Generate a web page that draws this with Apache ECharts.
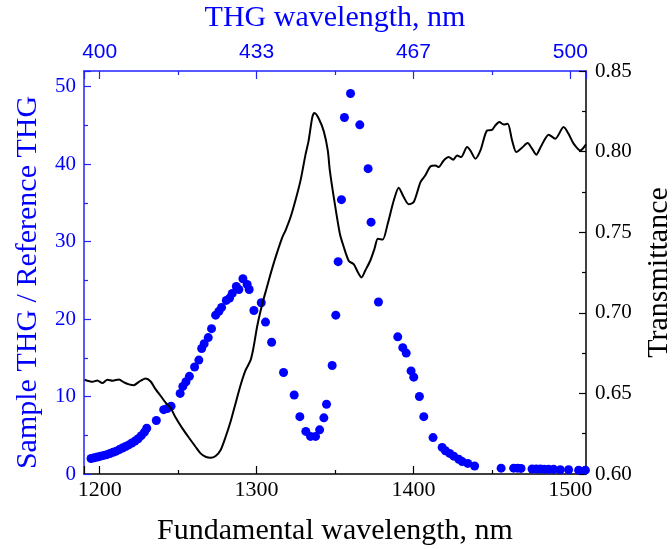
<!DOCTYPE html>
<html><head><meta charset="utf-8">
<script src="https://cdn.jsdelivr.net/npm/echarts@6/dist/echarts.min.js"></script>
<style>html,body{margin:0;padding:0;background:#fff}#c{width:672px;height:549px}</style>
</head><body><div id="c"></div>
<script>
// THG ratio (scatter), fundamental wavelength in nm
const thgWl = [1194.5,1196.5,1198.5,1200.5,1202.5,1204.5,1206.5,1208.5,1210.5,1212.5,1214.5,1216.5,1218.5,1220.5,1222.5,1224.5,1226.5,1228.5,1230.0,
  1236.1,1240.8,1243.1,1245.5,1251.3,1253.0,1255.0,1257.2,1260.5,1263.2,1265.0,1266.6,1269.2,1271.3,1273.9,1276.0,1277.7,1280.7,1282.8,1284.5,
  1287.1,1288.7,1291.3,1294.0,1295.3,1298.3,1303.0,1305.7,1309.6,1317.2,1324.0,1327.6,1331.4,1334.4,1337.6,1340.2,1342.9,1344.6,1348.2,1350.5,
  1352.0,1354.1,1356.0,1359.9,1365.8,1371.1,1373.0,1377.7,1390.0,1393.2,1395.4,1398.5,1400.2,1403.8,1406.6,1412.5,1418.3,1420.4,1423.1,1425.7,
  1428.9,1431.1,1434.6,1439.0,1455.9,1463.9,1466.4,1468.6,1475.6,1478.3,1480.9,1483.4,1486.2,1489.4,1493.6,1498.9,1505.3,1509.6];
const thgRatio = [2.0,2.1,2.2,2.3,2.4,2.5,2.65,2.8,2.95,3.15,3.35,3.55,3.75,4.0,4.25,4.55,4.95,5.4,5.9,
  6.9,8.3,8.45,8.75,10.4,11.3,11.9,12.6,13.8,14.7,16.2,16.8,17.6,18.75,20.5,21.0,21.5,22.4,22.7,23.3,
  24.2,23.8,25.2,24.45,23.8,21.1,22.1,19.6,17.0,13.1,10.2,7.4,5.5,4.85,4.85,5.7,7.25,9.0,14.0,20.5,
  27.4,35.4,46.0,49.1,45.05,39.4,32.5,22.2,17.7,16.3,15.6,13.3,12.5,10.0,7.4,4.7,3.43,3.0,2.66,2.3,
  1.9,1.6,1.37,1.03,0.75,0.75,0.75,0.72,0.65,0.65,0.65,0.62,0.6,0.6,0.55,0.55,0.5,0.5];

// Transmittance (line)
const transWl = [1190.4,1195.4,1198.5,1201.7,1204.9,1208.3,1212.3,1215.5,1218.7,1221.8,1225.0,1229.3,1232.5,1235.7,1238.9,1242.0,1245.2,1248.4,
  1252.7,1256.9,1261.1,1264.3,1267.5,1270.7,1273.9,1277.1,1280.3,1283.4,1286.6,1289.8,1293.0,1296.2,1298.1,1300.4,1303.6,1306.4,1308.9,
  1312.1,1316.4,1318.5,1321.7,1324.8,1328.0,1331.2,1333.1,1335.5,1336.9,1339.7,1342.9,1345.4,1346.7,1349.2,1353.1,1355.6,1358.8,1362.0,
  1364.5,1366.9,1369.4,1372.6,1375.2,1377.3,1380.4,1383.6,1387.5,1390.6,1393.8,1397.0,1400.2,1404.5,1407.6,1410.8,1414.0,1416.1,1419.3,
  1422.5,1425.3,1427.8,1430.4,1434.2,1436.3,1439.5,1442.7,1446.9,1450.1,1452.2,1454.8,1457.5,1460.1,1462.9,1465.6,1469.2,1472.8,1475.6,
  1478.3,1481.3,1486.2,1490.4,1495.7,1498.9,1502.1,1506.4,1510.0];
const transVal = [0.6585,0.6572,0.6580,0.6564,0.6585,0.6579,0.6587,0.6568,0.6556,0.6551,0.6572,0.6593,0.6574,0.6525,0.6484,0.6443,0.6410,0.6350,
  0.6283,0.6225,0.6169,0.6128,0.6107,0.6101,0.6112,0.6149,0.6231,0.6324,0.6438,0.6551,0.6644,0.6706,0.6787,0.6917,0.7053,0.7152,0.7240,
  0.7344,0.7468,0.7512,0.7594,0.7698,0.7820,0.7981,0.8063,0.8212,0.8240,0.8204,0.8124,0.8007,0.7883,0.7718,0.7490,0.7408,0.7322,0.7301,
  0.7253,0.7219,0.7264,0.7326,0.7398,0.7460,0.7454,0.7553,0.7698,0.7776,0.7718,0.7673,0.7687,0.7811,0.7853,0.7908,0.7914,0.7904,0.7945,
  0.7966,0.7950,0.7976,0.7966,0.8028,0.8007,0.7956,0.8007,0.8131,0.8135,0.8162,0.8183,0.8168,0.8173,0.8069,0.7997,0.8024,0.8053,0.8018,
  0.7981,0.8032,0.8105,0.8080,0.8152,0.8110,0.8049,0.8007,0.8045];

const xMin = 1190, xMax = 1510;
const leftMax = 52;
const rightMin = 0.60, rightMax = 0.85;

const BLUE = '#0000ff';
const AXBLUE = '#2222ff';
const SERIF = 'Liberation Serif';
const SANS = 'Liberation Sans';

const chart = echarts.init(document.getElementById('c'), null, {renderer: 'canvas'});
const option = {
  animation: false,
  backgroundColor: '#fff',
  grid: {left: 84, right: 86, top: 71, bottom: 75, containLabel: false, outerBoundsMode: 'none'},
  xAxis: [
    {
      type: 'value', position: 'bottom', min: xMin, max: xMax, splitNumber: 3,
      name: 'Fundamental wavelength, nm', nameLocation: 'middle', nameGap: 42,
      nameTextStyle: {fontFamily: SERIF, fontSize: 30, color: '#000'},
      axisLine: {show: true, onZero: false, lineStyle: {color: '#000', width: 1.5}},
      axisTick: {show: true, inside: true, length: 8, lineStyle: {color: '#000', width: 1.2}},
      minorTick: {show: true, splitNumber: 2, length: 4, lineStyle: {color: '#000', width: 1.2}},
      axisLabel: {fontFamily: SERIF, fontSize: 22, color: '#000', margin: 5,
        formatter: v => (Math.abs(v % 100) < 1e-6 ? String(v) : '')},
      splitLine: {show: false}
    },
    {
      type: 'value', position: 'top', min: xMin, max: xMax, splitNumber: 3,
      name: 'THG wavelength, nm', nameLocation: 'middle', nameGap: 38,
      nameTextStyle: {fontFamily: SERIF, fontSize: 30, color: BLUE},
      axisLine: {show: true, onZero: false, lineStyle: {color: AXBLUE, width: 1.5}},
      axisTick: {show: true, inside: true, length: 8, lineStyle: {color: AXBLUE, width: 1.2}},
      minorTick: {show: true, splitNumber: 2, length: 4, lineStyle: {color: AXBLUE, width: 1.2}},
      axisLabel: {fontFamily: SANS, fontSize: 21, color: BLUE, margin: 8,
        formatter: v => (Math.abs(v % 100) < 1e-6 ? String(Math.round(v / 3)) : '')},
      splitLine: {show: false}
    }
  ],
  yAxis: [
    {
      type: 'value', position: 'left', min: 0, max: leftMax, interval: 10,
      name: 'Sample THG / Reference THG', nameLocation: 'middle', nameRotate: 90, nameGap: 41,
      nameTextStyle: {fontFamily: SERIF, fontSize: 30, color: BLUE, padding: [0, 20, 0, 0]},
      axisLine: {show: true, onZero: false, lineStyle: {color: AXBLUE, width: 1.5}},
      axisTick: {show: true, inside: true, length: 7, lineStyle: {color: AXBLUE, width: 1.2}},
      minorTick: {show: true, splitNumber: 2, length: 4, lineStyle: {color: AXBLUE, width: 1.2}},
      axisLabel: {fontFamily: SERIF, fontSize: 21, color: BLUE, margin: 8,
        formatter: v => (Math.abs(v % 10) < 1e-6 ? String(v) : '')},
      splitLine: {show: false}
    },
    {
      type: 'value', position: 'right', min: rightMin, max: rightMax, interval: 0.05,
      name: 'Transmittance', nameLocation: 'middle', nameRotate: 90, nameGap: 58,
      nameTextStyle: {fontFamily: SERIF, fontSize: 30, color: '#000'},
      axisLine: {show: true, onZero: false, lineStyle: {color: '#000', width: 1.5}},
      axisTick: {show: true, inside: true, length: 7, lineStyle: {color: '#000', width: 1.2}},
      minorTick: {show: true, splitNumber: 2, length: 4, lineStyle: {color: '#000', width: 1.2}},
      axisLabel: {fontFamily: SERIF, fontSize: 21, color: '#000', margin: 9,
        formatter: v => v.toFixed(2)},
      splitLine: {show: false}
    }
  ],
  series: [
    {
      type: 'scatter', xAxisIndex: 0, yAxisIndex: 0, symbol: 'circle', symbolSize: 9,
      itemStyle: {color: BLUE, opacity: 1}, clip: false, z: 2,
      data: thgWl.map((x, i) => [x, thgRatio[i]])
    },
    {
      type: 'line', xAxisIndex: 0, yAxisIndex: 1, showSymbol: false, symbol: 'none', smooth: 0.25,
      lineStyle: {color: '#000', width: 2}, z: 3,
      data: transWl.map((x, i) => [x, transVal[i]])
    }
  ]
};
chart.setOption(option);
</script>
</body></html>
